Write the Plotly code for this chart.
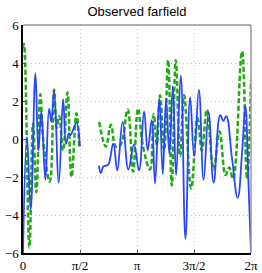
import plotly.graph_objects as go

# x positions in units of pi (0..2)
blue_x = [0.000, 0.035, 0.067, 0.109, 0.135, 0.161, 0.196, 0.229, 0.249, 0.273, 0.314, 0.352,
          0.378, 0.402, 0.416, 0.434, 0.469, 0.499,
          None,
          0.666, 0.683, 0.704, 0.727, 0.748, 0.792, 0.827, 0.874, 0.924, 0.974, 1.018, 1.062,
          1.094, 1.129, 1.158, 1.196, 1.226, 1.255, 1.284, 1.314, 1.343, 1.384, 1.425, 1.466,
          1.501, 1.543, 1.584, 1.628, 1.672, 1.730, 1.757, 1.783, 1.833, 1.883, 1.924, 1.950,
          1.979, 2.000]
blue_y = [-6.0, 0.1, -3.7, 3.45, -0.6, 1.45, -2.15, 1.6, 0.9, 2.55, -2.3, 2.1,
          -0.25, 0.3, 0.2, 0.4, 0.85, -0.4,
          None,
          -1.4, -1.8, -1.45, -1.4, -1.35, -0.25, -1.65, 0.9, -1.6, -0.3, -1.65, 1.45,
          -0.6, 1.0, -2.35, 2.15, -1.85, 2.1, -0.8, 2.8, -1.9, 3.35, -5.25, 2.2,
          -0.9, 2.6, -2.15, 1.4, -2.3, 1.25, 0.95, 1.2, -1.0, -3.1, -0.5, 1.75,
          -2.5, -6.0]

green_x = [0.000, 0.008, 0.056, 0.088, 0.117, 0.152, 0.179, 0.235, 0.273, 0.296, 0.317, 0.352,
           0.390, 0.425, 0.469, 0.493,
           None,
           0.669, 0.727, 0.771, 0.815, 0.856, 0.918, 0.965, 1.009, 1.050, 1.114, 1.147, 1.173,
           1.202, 1.238, 1.273, 1.305, 1.340, 1.378, 1.413, 1.475, 1.531, 1.569, 1.613, 1.672,
           1.724, 1.777, 1.809, 1.842, 1.921, 1.965, 2.000]
green_y = [4.8, 5.0, -5.7, 0.8, -2.8, 2.35, -0.15, -2.25, 2.6, 0.6, 1.2, -0.6,
           2.45, -2.0, 1.35, -0.4,
           None,
           0.9, -0.4, 0.75, -0.4, -0.3, 1.55, -1.72, 1.6, -0.3, -1.6, 1.3, -0.3,
           2.3, -0.6, 4.15, -2.45, 4.15, -0.9, 2.3, -2.6, 1.1, -0.6, 1.55, -1.6,
           0.4, -1.9, -1.5, -2.1, 4.6, -2.1, 3.1]

x_tickvals = [0, 0.5, 1, 1.5, 2]
x_ticktext = ["0", "π/2", "π", "3π/2", "2π"]
y_tickvals = [-6, -4, -2, 0, 2, 4, 6]
y_ticktext = ["−6", "−4", "−2", "0", "2", "4", "6"]

fig = go.Figure()
fig.add_trace(go.Scatter(x=green_x, y=green_y, mode="lines",
                         line=dict(color="#22aa11", width=2.5, dash="5px,2.5px",
                                   shape="spline", smoothing=1.2),
                         connectgaps=False, showlegend=False))
fig.add_trace(go.Scatter(x=blue_x, y=blue_y, mode="lines",
                         line=dict(color="#2846ff", width=1.8, shape="spline", smoothing=1.2),
                         connectgaps=False, showlegend=False))

grid = dict(showgrid=True, gridcolor="#c4c4c4", gridwidth=1, griddash="1px,3px", zeroline=False)
tfont = dict(family="Liberation Serif, DejaVu Serif, serif", size=13, color="black")
fig.update_xaxes(range=[0, 2], tickvals=x_tickvals, ticktext=x_ticktext, automargin=False,
                 showline=True, linecolor="black", linewidth=1.5,
                 ticks="inside", ticklen=3, tickcolor="#555", tickfont=tfont, **grid)
fig.update_yaxes(range=[-6, 6], tickvals=y_tickvals, ticktext=y_ticktext, automargin=False,
                 showline=True, linecolor="black", linewidth=1.5,
                 ticks="inside", ticklen=3, tickcolor="#555", tickfont=tfont, **grid)
fig.add_shape(type="line", xref="paper", yref="paper", x0=0, x1=1, y0=1, y1=1,
              line=dict(color="#999999", width=1.5))
fig.add_shape(type="line", xref="paper", yref="paper", x0=1, x1=1, y0=0, y1=1,
              line=dict(color="#999999", width=1.5))

fig.update_layout(
    width=262, height=273,
    margin=dict(l=23, r=11, t=25, b=20),
    paper_bgcolor="white", plot_bgcolor="white",
    title=dict(text="Observed farfield", x=0.5, xref="paper", y=1 - 11 / 273,
               yanchor="middle", xanchor="center", automargin=False,
               font=dict(family="Liberation Sans, Arial, sans-serif", size=13, color="black")),
)
fig.write_html("out.html", config={"displayModeBar": False},
               post_script="document.body.style.margin='0';document.body.style.overflow='hidden';")
